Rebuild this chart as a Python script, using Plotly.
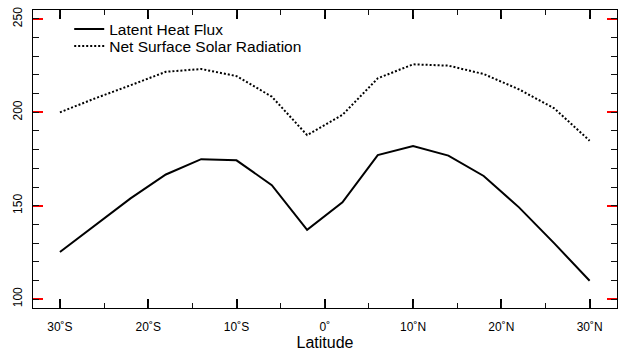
import plotly.graph_objects as go

latitude = [-30, -26, -22, -18, -14, -10, -6, -2, 2, 6, 10, 14, 18, 22, 26, 30]
latent_heat_flux = [125.2, 139.5, 153.9, 166.7, 174.9, 174.3, 161.0, 137.1,
                    151.8, 177.1, 182.0, 176.8, 165.9, 149.1, 129.8, 109.8]
net_surface_solar = [200.0, 207.5, 214.5, 221.7, 223.2, 219.4, 208.4, 187.8,
                     198.6, 218.2, 225.7, 225.0, 220.5, 212.3, 202.1, 184.8]

x_tick_numbers = [-30, -20, -10, 0, 10, 20, 30]
x_tick_labels = ["30˚S", "20˚S", "10˚S", "0˚", "10˚N", "20˚N", "30˚N"]

label_alias = {}
for v, t in zip(x_tick_numbers, x_tick_labels):
    label_alias[str(v)] = t
    label_alias[str(v).replace("-", "\u2212")] = t

X_RANGE = [-33.05, 33.1]
Y_RANGE = [95.2, 254.8]
FONT = "Liberation Sans, Arial, Helvetica, sans-serif"

fig = go.Figure()
fig.add_trace(go.Scatter(x=latitude, y=latent_heat_flux, mode="lines",
                         name="Latent Heat Flux", legend="legend",
                         line=dict(color="black", width=2)))
fig.add_trace(go.Scatter(x=latitude, y=net_surface_solar, mode="lines",
                         name="Net Surface Solar Radiation", legend="legend2",
                         line=dict(color="black", width=2, dash="2px,2px")))
fig.add_trace(go.Scatter(x=latitude, y=latent_heat_flux, mode="lines",
                         xaxis="x2", yaxis="y2", showlegend=False,
                         hoverinfo="skip",
                         line=dict(color="rgba(0,0,0,0)", width=0)))

leg_common = dict(xanchor="left", yanchor="middle", bgcolor="rgba(0,0,0,0)",
                  font=dict(size=15.5, family=FONT), borderwidth=0)

fig.update_layout(
    width=618, height=352,
    margin=dict(l=33, r=1, t=10, b=44),
    paper_bgcolor="white", plot_bgcolor="white",
    font=dict(family=FONT, color="black", size=12),
    showlegend=True,
    legend=dict(x=0.062, y=0.935, **leg_common),
    legend2=dict(x=0.062, y=0.878, **leg_common),
    xaxis=dict(range=X_RANGE, tickmode="linear", tick0=0, dtick=10,
               labelalias=label_alias,
               ticks="inside", ticklen=9, tickwidth=2, tickcolor="#000000",
               showline=True, linecolor="black", linewidth=1, mirror="allticks",
               showgrid=False, zeroline=False, ticklabelstandoff=8,
               title=dict(text="Latitude", font=dict(size=16), standoff=0),
               tickfont=dict(size=12)),
    yaxis=dict(range=Y_RANGE, tickmode="linear", tick0=100, dtick=50,
               ticks="inside", ticklen=10, tickwidth=2, tickcolor="red",
               showline=True, linecolor="black", linewidth=1, mirror="allticks",
               showgrid=False, zeroline=False, tickangle=-90,
               ticklabelstandoff=5, tickfont=dict(size=12)),
    xaxis2=dict(range=X_RANGE, overlaying="x", anchor="y2", side="bottom",
                tickmode="linear", tick0=0, dtick=5,
                ticks="inside", ticklen=5, tickwidth=1, tickcolor="#111111",
                showline=False, mirror="allticks",
                showticklabels=False, showgrid=False, zeroline=False),
    yaxis2=dict(range=Y_RANGE, overlaying="y", anchor="x2", side="left",
                tickmode="linear", tick0=0, dtick=10,
                ticks="inside", ticklen=6, tickwidth=1, tickcolor="#111111",
                showline=False, mirror="allticks",
                showticklabels=False, showgrid=False, zeroline=False),
)

fig.write_html("out.html")
